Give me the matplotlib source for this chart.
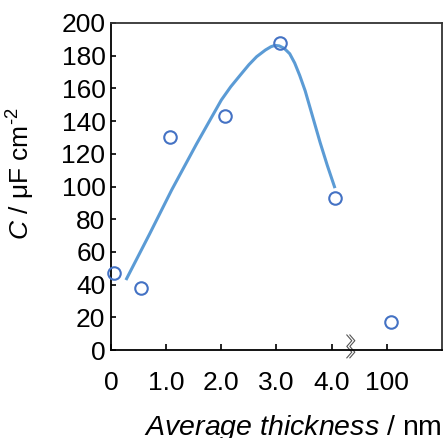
import numpy as np
import matplotlib
matplotlib.use("Agg")
import matplotlib.pyplot as plt

plt.rcParams["font.family"] = ["Liberation Sans", "DejaVu Sans"]
plt.rcParams["mathtext.fontset"] = "custom"
plt.rcParams["mathtext.rm"] = "Liberation Sans"
plt.rcParams["mathtext.it"] = "Liberation Sans:italic"

# measured points (x = position on the broken axis, last one is the 100 nm film)
thickness_pos = [0.05, 0.55, 1.07, 2.06, 3.06, 4.06, 5.07]
capacitance = [47, 38, 130, 143, 188, 93, 17]

# guide curve
curve_x = [0.27, 0.70, 1.10, 1.55, 2.00, 2.17, 2.34, 2.50, 2.64, 2.80, 2.90, 2.97, 3.05, 3.14, 3.24, 3.33, 3.42, 3.52, 3.61, 3.70, 3.79, 3.92, 4.06]
curve_c = [42.8, 71, 97.9, 126, 152.9, 161, 168, 174.5, 179.4, 183.5, 185.5, 186.3, 186, 184.5, 181.2, 175.5, 168, 158.5, 148, 137.5, 127, 113, 99]

tick_pos = [0, 1, 2, 3, 4, 5]
tick_labels = ["0", "1.0", "2.0", "3.0", "4.0", "100"]
y_ticks = list(range(0, 201, 20))

BREAK_POS = 4.35

fig = plt.figure(figsize=(4.43, 4.38), dpi=100)
ax = fig.add_axes([0.2506, 0.2009, 0.7471, 0.7466])

ax.plot(curve_x, curve_c, "-", color="#5B9BD5", linewidth=2.2, solid_capstyle="butt")
ax.plot(thickness_pos, capacitance, "o", markerfacecolor="none", markeredgecolor="#4472C4",
        markersize=9, markeredgewidth=1.5, clip_on=False, zorder=5)

ax.set_xlim(0, 6.0)
ax.set_ylim(0, 200)
ax.set_xticks(tick_pos)
ax.set_xticklabels(tick_labels)
ax.set_yticks(y_ticks)

ax.tick_params(axis="both", direction="in", labelsize=19, width=1.2, color="black")
ax.tick_params(axis="x", length=4.5, pad=15)
ax.tick_params(axis="y", length=3.6, pad=4)

for side in ["left", "bottom"]:
    ax.spines[side].set_linewidth(1.3)
for side in ["top", "right"]:
    ax.spines[side].set_linewidth(1.3)
    ax.spines[side].set_color("#333333")

# axis break mark (two parallel zigzags across the x axis)
trans = ax.get_xaxis_transform()
zig_y = np.linspace(0.046, -0.024, 5)
zig_dx = np.array([0.0, 0.09, 0.0, 0.09, 0.0])
for off in [-0.03, 0.025]:
    ax.plot(BREAK_POS + zig_dx + off - 0.045, zig_y, color="#555555", linewidth=0.8,
            transform=trans, clip_on=False)

ax.set_ylabel(r"$C$ / μF cm$^{\text{-2}}$", fontsize=19)
ax.yaxis.set_label_coords(-0.225, 0.54)
ax.set_xlabel(r"$Average\ thickness$ / nm", fontsize=20.5, loc="right", labelpad=13)

fig.savefig("out.png", dpi=100)
